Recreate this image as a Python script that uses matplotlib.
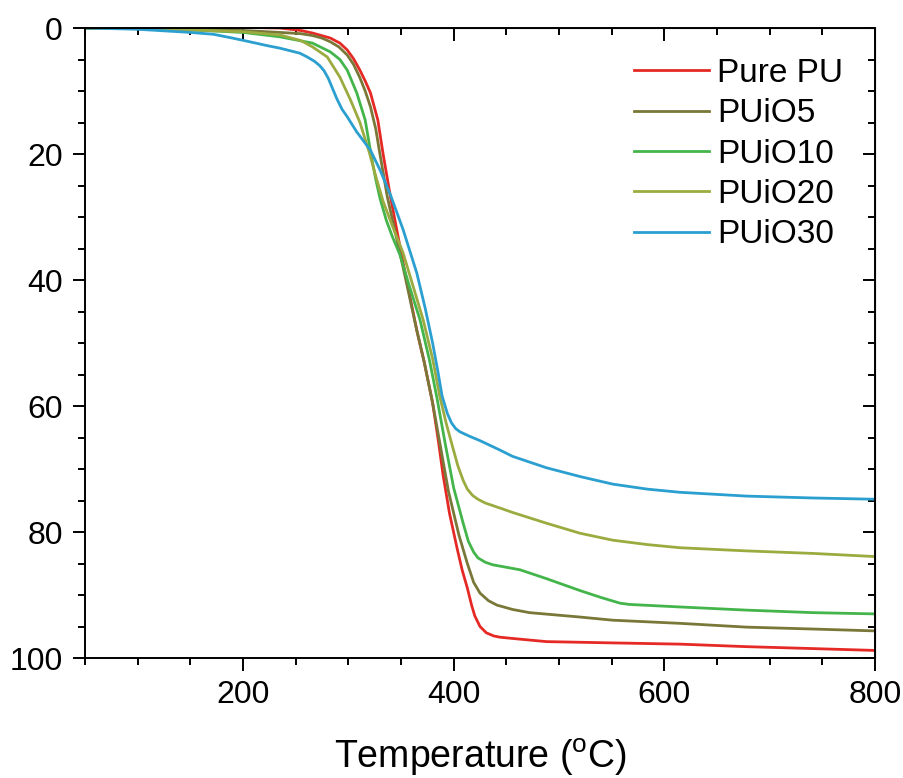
import matplotlib
matplotlib.use("Agg")
import matplotlib.pyplot as plt
from matplotlib.ticker import MultipleLocator

plt.rcParams['font.family'] = ['Liberation Sans', 'DejaVu Sans']
plt.rcParams['mathtext.fontset'] = 'custom'
plt.rcParams['mathtext.rm'] = 'Liberation Sans'

# ---- data ----
labels = ["Pure PU", "PUiO5", "PUiO10", "PUiO20", "PUiO30"]
colors = ["#e52a26", "#7a7838", "#43b54b", "#9cab40", "#2b9fd0"]

T_pure = [50, 100, 150, 200, 235, 255, 266, 283, 292, 299, 305, 311, 316, 321, 328, 333, 340, 352, 365,
          372, 380, 385, 390, 396, 403, 408, 413, 417, 420, 425, 431, 438, 444, 456, 488, 550, 615, 678,
          740, 800]
W_pure = [0, 0.1, 0.2, -0.1, 0, 0.4, 0.8, 1.6, 2.4, 3.5, 4.9, 6.7, 8.4, 10.3, 14.6, 20, 26.8, 37.3, 48,
          53, 59.5, 65, 71, 77, 82.4, 86, 88.9, 91.6, 93.3, 95, 96, 96.5, 96.7, 96.9, 97.4, 97.6, 97.8, 98.2,
          98.5, 98.8]

T_5 = [50, 100, 150, 200, 235, 255, 266, 275, 283, 291, 299, 305, 311, 316, 321, 326, 330, 337, 352, 365,
       372, 380, 387, 395, 405, 413, 419, 425, 433, 441, 456, 472, 520, 551, 615, 678, 741, 800]
W_5 = [0, 0.1, 0.2, 0.4, 0.7, 0.9, 1.2, 1.6, 2.2, 3.0, 4.3, 5.8, 7.9, 10, 12.5, 16, 20, 26.8, 38, 48,
       53, 59.5, 66, 73.5, 80.5, 85, 88, 89.7, 90.9, 91.6, 92.3, 92.8, 93.5, 94, 94.5, 95.1, 95.4, 95.7]

T_10 = [50, 100, 150, 200, 235, 266, 283, 292, 299, 308, 316, 322, 326, 330, 336, 342, 349, 358, 368,
        377, 384, 392, 400, 409, 414, 419, 423, 430, 437, 463, 488, 520, 540, 558, 567, 615, 678, 741, 800]
W_10 = [0, 0.1, 0.3, 0.7, 1.4, 2.4, 3.8, 5.0, 6.7, 10.3, 14.6, 20.5, 24, 27, 30.5, 33.2, 36, 41, 46.3,
        52.7, 58.6, 66, 73, 78.6, 81.5, 83.2, 84.1, 84.8, 85.2, 86, 87.4, 89.3, 90.4, 91.3, 91.5, 91.9, 92.4,
        92.8, 93]

T_20 = [50, 100, 150, 200, 235, 255, 266, 280, 292, 302, 311, 320, 326, 333, 342, 352, 371, 380, 387,
        393, 399, 404, 409, 413, 418, 423, 430, 444, 456, 488, 520, 551, 584, 615, 678, 741, 800]
W_20 = [0, 0.1, 0.3, 0.6, 1.1, 2.0, 3.0, 4.6, 7.8, 11.4, 15, 19.8, 23.5, 27.5, 31.5, 35.7, 46.3, 52.5,
        58.6, 62.8, 66.5, 69.5, 71.8, 73.2, 74.2, 74.8, 75.4, 76.2, 76.9, 78.6, 80.2, 81.3, 82, 82.5, 83,
        83.4, 83.9]

T_30 = [50, 100, 150, 172, 190, 204, 223, 235, 254, 261, 268, 273, 277, 281, 285, 289, 294, 299, 308,
        321, 330, 340, 352, 365, 373, 380, 385, 389, 394, 398, 402, 406, 415, 425, 444, 456, 488, 520, 551,
        584, 615, 678, 741, 800]
W_30 = [0, 0.2, 0.7, 1.0, 1.6, 2.1, 2.8, 3.2, 4.0, 4.6, 5.3, 6.0, 6.8, 8.0, 9.6, 11.2, 12.9, 14.1, 16.5,
        19.4, 22.5, 26.5, 32, 38.9, 44.5, 50, 54.5, 58.4, 61.2, 62.7, 63.6, 64.1, 64.8, 65.5, 67, 68, 69.8,
        71.2, 72.4, 73.2, 73.7, 74.3, 74.6, 74.8]

series = [(T_pure, W_pure), (T_5, W_5), (T_10, W_10), (T_20, W_20), (T_30, W_30)]

# ---- figure ----
fig = plt.figure(figsize=(9.04, 7.78), dpi=100)
ax = fig.add_axes([85/904, 1-658/778, 790/904, 630/778])

for (t, w), lab, c in zip(series, labels, colors):
    ax.plot(t, w, color=c, lw=2.0, label=lab, solid_joinstyle='round')

ax.set_xlim(50, 800)
ax.set_ylim(100, 0)

ax.xaxis.set_major_locator(MultipleLocator(200))
ax.xaxis.set_minor_locator(MultipleLocator(50))
ax.yaxis.set_major_locator(MultipleLocator(20))
ax.yaxis.set_minor_locator(MultipleLocator(5))

for s in ax.spines.values():
    s.set_linewidth(1.4)

ax.tick_params(axis='both', which='major', direction='out', length=9, width=1.4,
               labelsize=23, pad=7)
ax.tick_params(axis='both', which='minor', direction='out', length=5, width=1.4)

# mirrored inward ticks on top and right
top = ax.secondary_xaxis('top')
top.xaxis.set_major_locator(MultipleLocator(200))
top.xaxis.set_minor_locator(MultipleLocator(50))
top.tick_params(which='major', direction='in', length=9, width=1.4, labeltop=False)
top.tick_params(which='minor', direction='in', length=5, width=1.4)
right = ax.secondary_yaxis('right')
right.yaxis.set_major_locator(MultipleLocator(20))
right.yaxis.set_minor_locator(MultipleLocator(5))
right.tick_params(which='major', direction='in', length=9, width=1.4, labelright=False)
right.tick_params(which='minor', direction='in', length=5, width=1.4)

ax.set_xlabel("Temperature ($\\mathregular{^oC}$)", fontsize=27, labelpad=19)

ax.legend(loc='upper left', bbox_to_anchor=(634/904, 1-58/778), bbox_transform=fig.transFigure,
          frameon=False, fontsize=24, handlelength=2.25, handletextpad=0.25,
          labelspacing=0.28, borderpad=0, borderaxespad=0)

fig.savefig("out.png", dpi=100)
